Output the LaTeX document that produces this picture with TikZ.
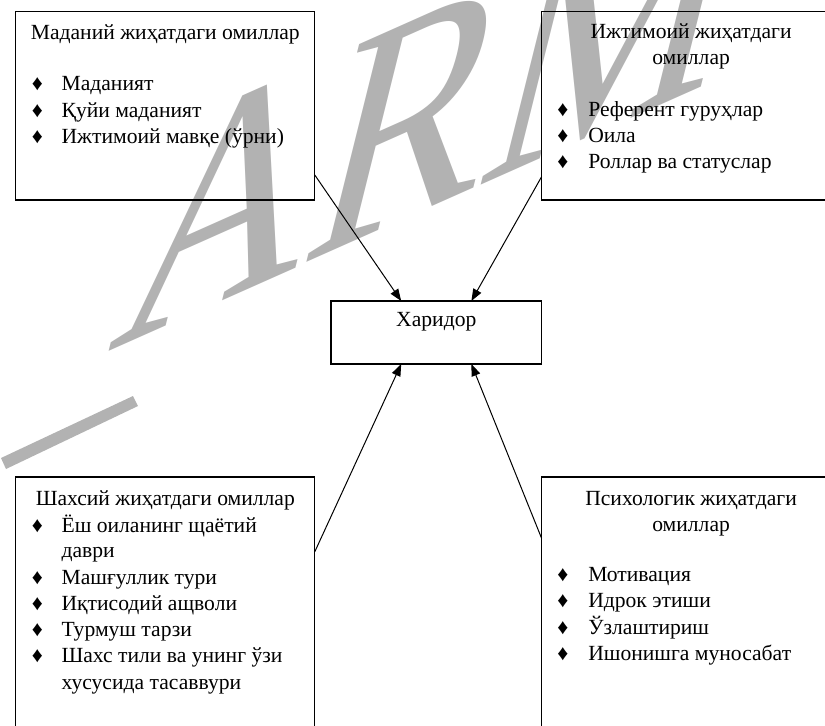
\documentclass[tikz,border=0pt]{standalone}
\usepackage{fontspec}
\setmainfont{Liberation Serif}
\usetikzlibrary{arrows.meta,calc}

\begin{document}
\begin{tikzpicture}[x=0.5pt,y=-0.5pt,
		every node/.style={inner sep=0pt,outer sep=0pt},
		factorbox/.style={draw,line width=0.6pt,anchor=north west,minimum width=149.5pt,minimum height=#1},
		factorbox/.default=94.2pt,
		buyerbox/.style={draw,line width=0.6pt,anchor=north west,minimum width=105.3pt,minimum height=31.5pt},
		titletext/.style={anchor=base,font=\fontsize{10.8pt}{13pt}\selectfont},
		itemtext/.style={anchor=base west,font=\fontsize{10.8pt}{13pt}\selectfont},
		bulletsign/.style={anchor=base,font=\fontsize{10.8pt}{13pt}\selectfont},
		feeds/.style={-{Triangle[length=6pt,width=4.5pt]},line width=0.5pt},
		wmark/.style={text=black!30,anchor=base west,font=\fontsize{100pt}{100pt}\selectfont}]
			\useasboundingbox (0,0) rectangle (825,725);
			\clip (0,0) rectangle (825,725);
			\fill [black!30] (1,458) -- (133,396) -- (138,406) -- (6,469) -- cycle;
			\draw (106,352) node [wmark,cm={1.3246,0.5898,0.416,1.669,(0,0)}] (wm) {ARM};
			\draw (15.8,11.6) node [factorbox] (cult) {};
			\draw (541.6,11.6) node [factorbox] (soc) {};
			\draw (15.8,477) node [factorbox=140pt] (pers) {};
			\draw (541.6,477) node [factorbox=140pt] (psy) {};
			\draw (331,301) node [buyerbox] (buyer) {};
			\draw (436.3,326.7) node [titletext] (buyerT) {Харидор};
			\draw (165.3,39.3) node [titletext] (cultT) {Маданий жиҳатдаги омиллар};
			\draw (37.5,90.7) node [bulletsign] (cultB1) {♦};
			\draw (61.6,90.7) node [itemtext] (cult1) {Маданият};
			\draw (37.5,117.4) node [bulletsign] (cultB2) {♦};
			\draw (61.6,117.4) node [itemtext] (cult2) {Қуйи маданият};
			\draw (37.5,143.8) node [bulletsign] (cultB3) {♦};
			\draw (61.6,143.8) node [itemtext] (cult3) {Ижтимоий мавқе (ўрни)};
			\draw (691.1,38.5) node [titletext] (socT1) {Ижтимоий жиҳатдаги};
			\draw (691.1,64.3) node [titletext] (socT2) {омиллар};
			\draw (563,116.7) node [bulletsign] (socB1) {♦};
			\draw (588.3,116.7) node [itemtext] (soc1) {Референт гуруҳлар};
			\draw (563,142.5) node [bulletsign] (socB2) {♦};
			\draw (588.3,142.5) node [itemtext] (soc2) {Оила};
			\draw (563,168.8) node [bulletsign] (socB3) {♦};
			\draw (588.3,168.8) node [itemtext] (soc3) {Роллар ва статуслар};
			\draw (165.3,505) node [titletext] (persT) {Шахсий жиҳатдаги омиллар};
			\draw (37.5,532) node [bulletsign] (persB1) {♦};
			\draw (61.6,532) node [itemtext] (pers1a) {Ёш оиланинг щаётий};
			\draw (61.6,557.5) node [itemtext] (pers1b) {даври};
			\draw (37.5,584) node [bulletsign] (persB2) {♦};
			\draw (61.6,584) node [itemtext] (pers2) {Машғуллик тури};
			\draw (37.5,610.3) node [bulletsign] (persB3) {♦};
			\draw (61.6,610.3) node [itemtext] (pers3) {Иқтисодий ащволи};
			\draw (37.5,636.6) node [bulletsign] (persB4) {♦};
			\draw (61.6,636.6) node [itemtext] (pers4) {Турмуш тарзи};
			\draw (37.5,662.9) node [bulletsign] (persB5) {♦};
			\draw (61.6,662.9) node [itemtext] (pers5a) {Шахс тили ва унинг ўзи};
			\draw (61.6,689.2) node [itemtext] (pers5b) {хусусида тасаввури};
			\draw (691.1,505.5) node [titletext] (psyT1) {Психологик жиҳатдаги};
			\draw (691.1,531.5) node [titletext] (psyT2) {омиллар};
			\draw (563,581) node [bulletsign] (psyB1) {♦};
			\draw (588.3,581) node [itemtext] (psy1) {Мотивация};
			\draw (563,607.5) node [bulletsign] (psyB2) {♦};
			\draw (588.3,607.5) node [itemtext] (psy2) {Идрок этиши};
			\draw (563,634) node [bulletsign] (psyB3) {♦};
			\draw (588.3,634) node [itemtext] (psy3) {Ўзлаштириш};
			\draw (563,660.5) node [bulletsign] (psyB4) {♦};
			\draw (588.3,660.5) node [itemtext] (psy4) {Ишонишга муносабат};
			\coordinate (cultOut) at ([yshift=12.5pt]cult.south east);
			\coordinate (socOut) at ([yshift=11.65pt]soc.south west);
			\coordinate (persOut) at ([yshift=-37.35pt]pers.north east);
			\coordinate (psyOut) at ([yshift=-30.65pt]psy.north west);
			\coordinate (buyerIn1) at ($(buyer.north west)!1/3!(buyer.north east)$);
			\coordinate (buyerIn2) at ($(buyer.north west)!2/3!(buyer.north east)$);
			\coordinate (buyerIn3) at ($(buyer.south west)!1/3!(buyer.south east)$);
			\coordinate (buyerIn4) at ($(buyer.south west)!2/3!(buyer.south east)$);
			\draw [feeds] (cultOut) -- (buyerIn1);
			\draw [feeds] (socOut) -- (buyerIn2);
			\draw [feeds] (persOut) -- (buyerIn3);
			\draw [feeds] (psyOut) -- (buyerIn4);
		\end{tikzpicture}
\end{document}
